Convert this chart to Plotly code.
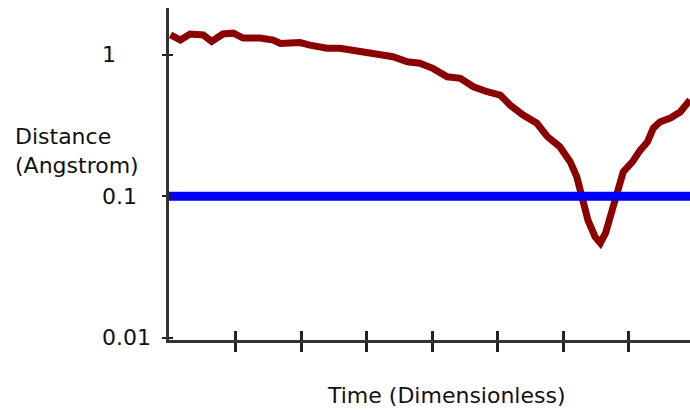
import math
import plotly.graph_objects as go

# Data
time = [0.00, 0.04, 0.15, 0.30, 0.50, 0.63, 0.80, 0.96, 1.11, 1.37, 1.57, 1.68,
        1.98, 2.13, 2.39, 2.59, 2.90, 3.10, 3.40, 3.62, 3.81, 4.01, 4.23, 4.43,
        4.63, 4.84, 5.04, 5.19, 5.39, 5.60, 5.76, 5.95, 6.11, 6.21, 6.29, 6.38,
        6.49, 6.57, 6.65, 6.75, 6.84, 6.92, 7.06, 7.18, 7.29, 7.38, 7.48, 7.64,
        7.79, 7.94]
distance = [1.38, 1.34, 1.27, 1.40, 1.38, 1.24, 1.40, 1.42, 1.31, 1.31, 1.27, 1.20,
            1.22, 1.17, 1.11, 1.11, 1.05, 0.995, 0.968, 0.892, 0.870, 0.801, 0.699, 0.681,
            0.594, 0.548, 0.519, 0.441, 0.375, 0.328, 0.264, 0.224, 0.175, 0.137, 0.0989, 0.068,
            0.0516, 0.0468, 0.0551, 0.0762, 0.111, 0.149, 0.175, 0.212, 0.242, 0.303, 0.335, 0.357,
            0.394, 0.479]
threshold = 0.1
x_ticks = [1, 2, 3, 4, 5, 6, 7]
y_tick_vals = [0.01, 0.1, 1]
y_tick_text = ["0.01", "0.1", "1"]

x_range = [-0.023, 7.94]
y_range = [-2.015, 0.33]

FONT = "DejaVu Sans"
FS = 22
AX = "#333333"

fig = go.Figure()
fig.add_trace(go.Scatter(x=x_range, y=[threshold, threshold], mode="lines",
                         line=dict(color="#0000ff", width=9),
                         xaxis="x2", yaxis="y2", hoverinfo="skip"))
fig.add_trace(go.Scatter(x=time, y=distance, mode="lines",
                         line=dict(color="#8b0000", width=7, shape="linear"),
                         hoverinfo="skip"))

fig.update_layout(
    width=690, height=410,
    margin=dict(l=169, r=0, t=8, b=70),
    paper_bgcolor="white", plot_bgcolor="white",
    showlegend=False,
    font=dict(family=FONT, size=FS, color="#111111"),
    xaxis=dict(range=x_range, showgrid=False, zeroline=False,
               showline=True, linecolor=AX, linewidth=3,
               tickmode="array", tickvals=x_ticks, ticks="outside",
               ticklen=9, tickwidth=3, tickcolor="#222222",
               showticklabels=False),
    xaxis2=dict(range=x_range, overlaying="x", anchor="y", side="bottom",
                showgrid=False, zeroline=False, showline=False,
                tickmode="array", tickvals=x_ticks, ticks="inside",
                ticklen=9, tickwidth=3, tickcolor="#222222",
                showticklabels=False),
    yaxis=dict(type="log", range=y_range, showgrid=False, zeroline=False,
               showline=True, linecolor=AX, linewidth=3,
               tickmode="array", tickvals=y_tick_vals, ticks="outside",
               ticklen=4, tickwidth=2, tickcolor="#222222",
               showticklabels=False),
    yaxis2=dict(type="log", range=y_range, overlaying="y", anchor="x",
                showgrid=False, zeroline=False, showline=False,
                tickmode="array", tickvals=y_tick_vals, ticks="inside",
                ticklen=4, tickwidth=2, tickcolor="#222222",
                showticklabels=False),
)

for v, t in zip(y_tick_vals, y_tick_text):
    fig.add_annotation(text=t, xref="paper", yref="y", x=-0.1325, y=math.log10(v),
                       xanchor="left", yanchor="middle", showarrow=False,
                       font=dict(family=FONT, size=FS, color="#111111"))

fig.add_annotation(text="Distance<br>(Angstrom)", xref="paper", yref="paper",
                   x=-0.300, y=0.57, xanchor="left", yanchor="middle", align="left",
                   showarrow=False, font=dict(family=FONT, size=FS, color="#111111"))
fig.add_annotation(text="Time (Dimensionless)", xref="paper", yref="paper",
                   x=0.532, y=-0.166, xanchor="center", yanchor="middle",
                   showarrow=False, font=dict(family=FONT, size=FS, color="#111111"))

fig.write_html("out.html",
               config={"displayModeBar": False},
               post_script="document.body.style.margin='0px';document.body.style.overflow='hidden';")
